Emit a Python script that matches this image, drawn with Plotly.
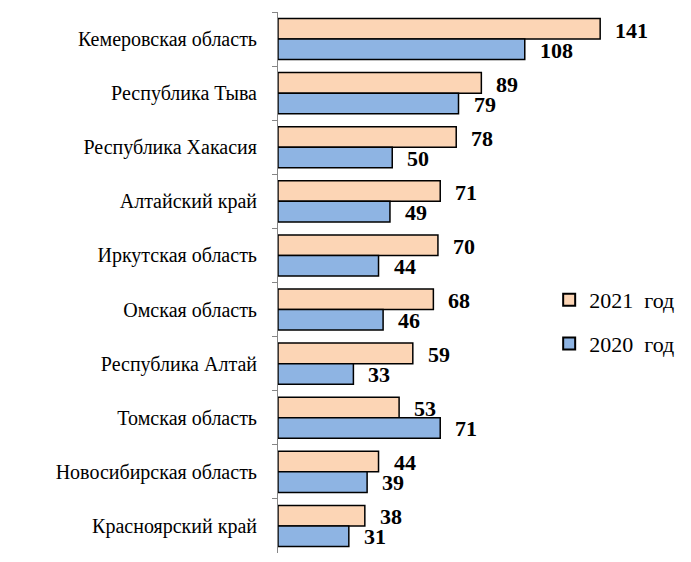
import plotly.graph_objects as go

regions = [
    "Кемеровская область",
    "Республика Тыва",
    "Республика Хакасия",
    "Алтайский край",
    "Иркутская область",
    "Омская область",
    "Республика Алтай",
    "Томская область",
    "Новосибирская область",
    "Красноярский край",
]
values_2021 = [141, 89, 78, 71, 70, 68, 59, 53, 44, 38]
values_2020 = [108, 79, 50, 49, 44, 46, 33, 71, 39, 31]

serif = "Liberation Serif"

fig = go.Figure()
fig.add_trace(go.Bar(
    y=regions, x=values_2021, orientation="h",
    name="2021\u00a0\u00a0год", legendgroup="a",
    marker=dict(color="#FCD5B5", line=dict(color="black", width=1.5)),
))
fig.add_trace(go.Bar(
    y=regions, x=values_2020, orientation="h",
    name="2020\u00a0\u00a0год", legendgroup="b",
    marker=dict(color="#8EB4E3", line=dict(color="black", width=1.5)),
))

# value labels next to bar ends
for vals, shift in ((values_2021, 9), (values_2020, -11)):
    for reg, v in zip(regions, vals):
        fig.add_annotation(
            x=v, y=reg, text="<b>%d</b>" % v, showarrow=False,
            xanchor="left", xshift=13, yshift=shift,
            font=dict(family=serif, size=22, color="black"),
        )

fig.update_layout(
    width=691, height=562,
    margin=dict(l=278, r=20, t=12, b=9),
    plot_bgcolor="white", paper_bgcolor="white",
    barmode="group", bargap=0.24, bargroupgap=0,
    font=dict(family=serif, size=20, color="black"),
    legend=dict(
        x=0.69, y=0.427, xanchor="left", yanchor="middle",
        font=dict(family=serif, size=22, color="black"),
        itemsizing="constant", tracegroupgap=12,
        bgcolor="rgba(0,0,0,0)",
    ),
)
fig.update_xaxes(range=[0, 172], visible=False)
fig.update_yaxes(
    autorange="reversed", showline=True, linecolor="#868686", linewidth=1,
    ticks="outside", ticklen=5, tickcolor="#868686", tickson="boundaries",
    ticklabelstandoff=16, showgrid=False, automargin=False,
    tickfont=dict(family=serif, size=20, color="black"),
)

fig.write_html("out.html", config={"displayModeBar": False},
               post_script="document.body.style.margin='0';")
